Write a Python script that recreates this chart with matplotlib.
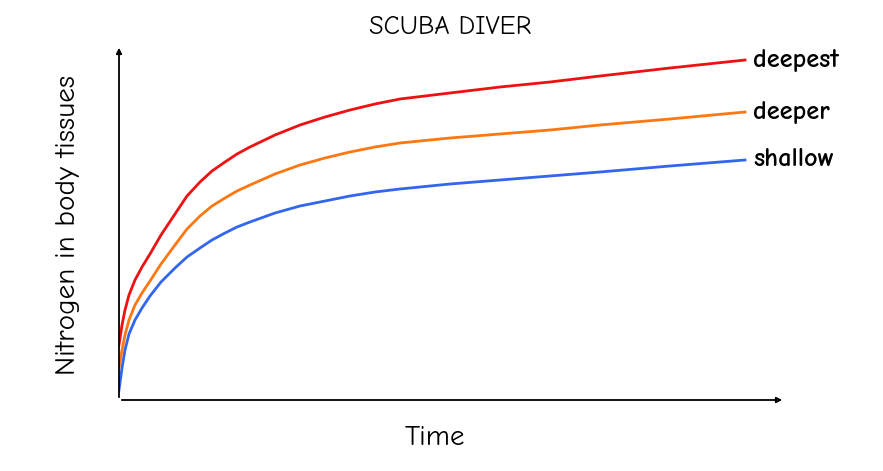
import matplotlib.pyplot as plt

# curve samples (time, nitrogen)
t = [0, 3, 6, 10, 16, 23, 31, 42, 56, 68, 81, 93, 106, 118, 131, 156, 181, 206, 231, 256, 281, 331, 381, 431, 481, 551, 626]
deepest = [55, 75, 90, 105, 120, 133, 146, 165, 186, 204, 218, 229, 238, 246, 253, 265, 275, 283, 290, 296, 301, 307, 313, 318, 324, 332, 340]
deeper = [32, 50, 65, 80, 95, 107, 119, 136, 155, 171, 184, 194, 202, 209, 215, 226, 235, 242, 248, 253, 257, 262, 266, 270, 275, 281, 288]
shallow = [10, 32, 50, 66, 80, 92, 104, 118, 132, 143, 152, 160, 167, 173, 178, 187, 194, 199, 204, 208, 211, 216, 220, 224, 228, 234, 240]
names = ["deepest", "deeper", "shallow"]
colors = ["#ee1111", "#ff7711", "#3366ee"]

plt.rcParams['font.family'] = ['Comic Neue', 'Noto Sans', 'DejaVu Sans']
fig = plt.figure(figsize=(8.83, 4.71), dpi=100)
ax = fig.add_axes([119/883, 71/471, 666/883, 355/471])
ax.set_xlim(0, 666)
ax.set_ylim(0, 355)
ax.axis('off')

for ys, n, c in zip([deepest, deeper, shallow], names, colors):
    ax.plot(t, ys, color=c, lw=2)
    ax.text(t[-1] + 8, ys[-1], n, fontsize=19, fontweight='bold', va='center', ha='left')

ax.annotate('', xy=(666, 0), xytext=(0, 0),
            arrowprops=dict(arrowstyle='-|>', color='black', lw=1.3, mutation_scale=8))
ax.annotate('', xy=(0, 355), xytext=(0, 0),
            arrowprops=dict(arrowstyle='-|>', color='black', lw=1.3, mutation_scale=8))

fig.text(450/883, 1 - 27/471, "SCUBA DIVER", fontsize=19, ha='center', va='center')
fig.text(435/883, 1 - 438/471, "Time", fontsize=21, ha='center', va='center')
fig.text(68/883, 1 - 225/471, "Nitrogen in body tissues", fontsize=21,
         ha='center', va='center', rotation=90)

fig.savefig("out.png", dpi=100)
